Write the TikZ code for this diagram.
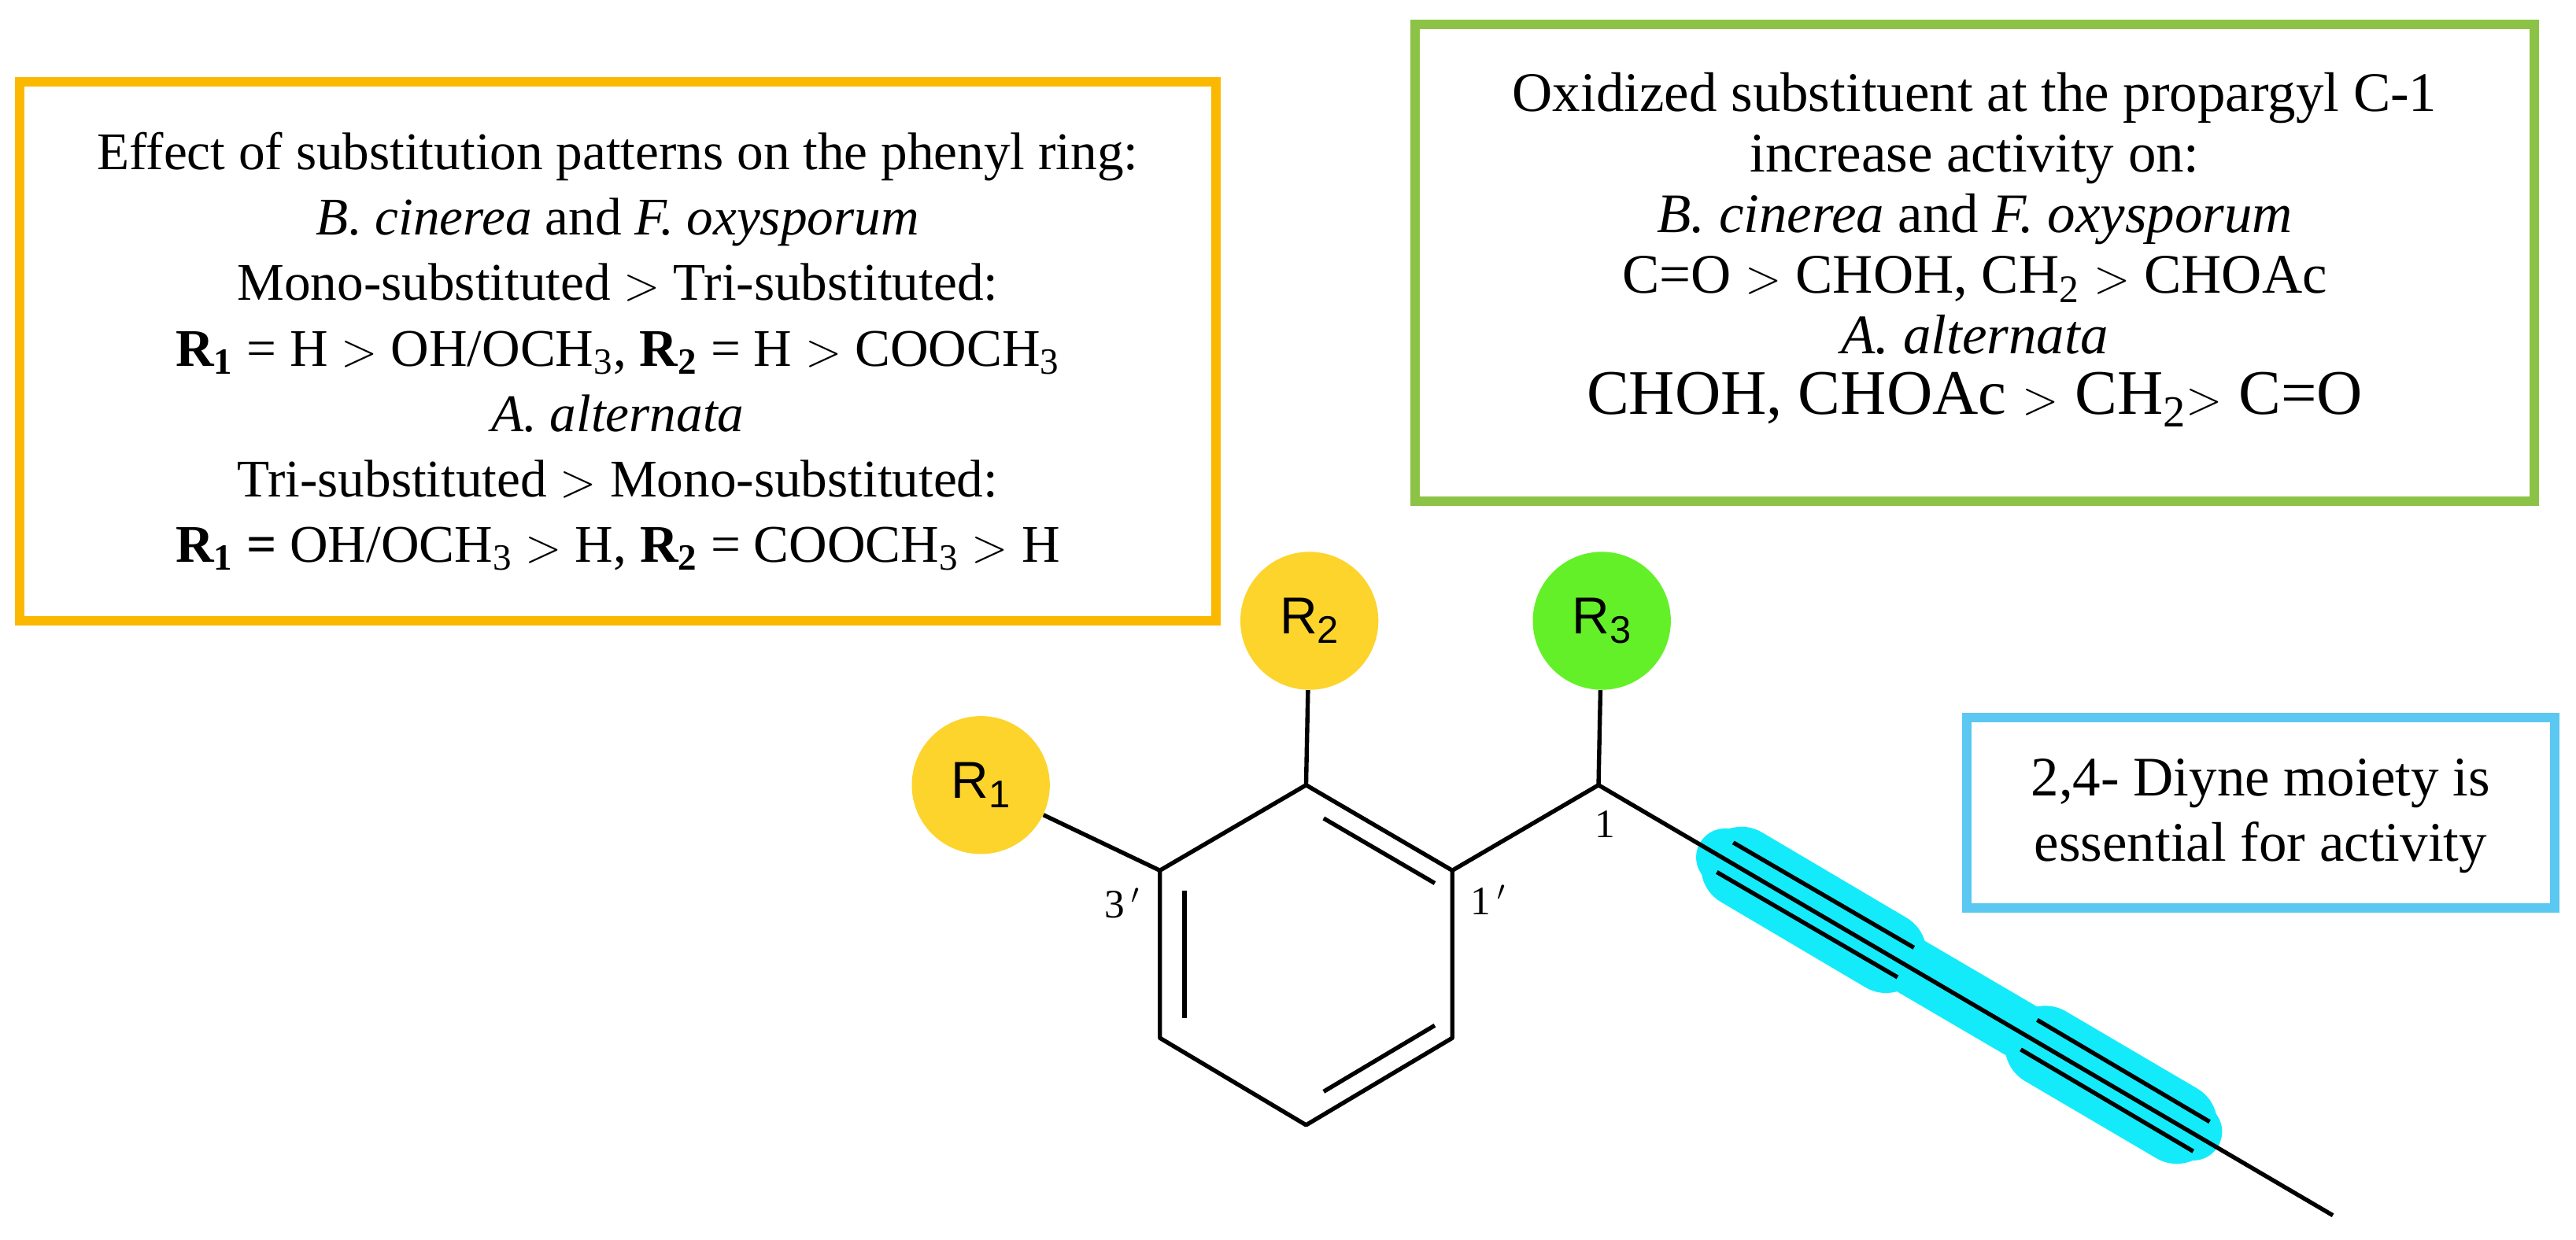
\documentclass[tikz,border=0pt]{standalone}
\usetikzlibrary{calc}
\usepackage{fontspec}
\setmainfont{Liberation Serif}
\newfontfamily\sff{Liberation Sans}
\begin{document}
\begin{tikzpicture}[x=0.03cm,y=-0.03cm,
  txt/.style={align=center,font=\fontsize{27.5}{34}\selectfont},
  bond/.style={line width=2.2pt},
  rc/.style={circle,minimum size=84*0.03cm,inner sep=0pt,font=\sff\fontsize{27}{30}\selectfont},
  lab/.style={font=\fontsize{21}{22}\selectfont}]
\useasboundingbox (0,0) rectangle (1568,755);
\newcommand{\sbs}[1]{\textsubscript{#1}}
\definecolor{hl}{RGB}{20,235,250}
% boxes
\node[draw={rgb,255:red,250;green,185;blue,0},line width=5pt,minimum width=728*0.03cm,minimum height=328*0.03cm] (ob) at (376,214) {};
\node[draw={rgb,255:red,140;green,195;blue,70},line width=5pt,minimum width=681*0.03cm,minimum height=290*0.03cm] (gb) at (1202,160) {};
\node[draw={rgb,255:red,90;green,200;blue,240},line width=5pt,minimum width=358*0.03cm,minimum height=116*0.03cm] (bb) at (1376,495) {};
\node[txt] (ot) at (376,214) {Effect of substitution patterns on the phenyl ring:\\
\textit{B. cinerea} and \textit{F. oxysporum}\\
Mono-substituted $>$ Tri-substituted:\\
\textbf{R\sbs{1}} = H $>$ OH/OCH\sbs{3}, \textbf{R\sbs{2}} = H $>$ COOCH\sbs{3}\\
\textit{A. alternata}\\
Tri-substituted $>$ Mono-substituted:\\
\textbf{R\sbs{1} =} OH/OCH\sbs{3} $>$ H, \textbf{R\sbs{2}} = COOCH\sbs{3} $>$ H};
\node[txt,font=\fontsize{29}{31.5}\selectfont] (gt) at (1202,152) {Oxidized substituent at the propargyl C-1\\
increase activity on:\\
\textit{B. cinerea} and \textit{F. oxysporum}\\
C=O $>$ CHOH, CH\sbs{2} $>$ CHOAc\\
\textit{A. alternata}\\
{\fontsize{33}{36}\selectfont CHOH, CHOAc $>$ CH\sbs{2}$>$ C=O}};
\node[txt,font=\fontsize{29}{34}\selectfont] (bt) at (1376,497) {2,4- Diyne moiety is\\essential for activity};
% highlight
\coordinate (h1) at (1050,522); \coordinate (h2) at (1335,689);
\draw[line width=30pt,line cap=round,hl] (h1) -- (h2);
\draw[line width=42pt,line cap=round,hl] (1060,528) -- (1148,580);
\draw[line width=42pt,line cap=round,hl] (1245,637) -- (1325,684);
% ring
\coordinate (a) at (795,478); \coordinate (b) at (884,530); \coordinate (c) at (884,632);
\coordinate (d) at (795,685); \coordinate (e) at (706,632); \coordinate (f) at (706,530);
\draw[bond,line join=round] (a)--(b)--(c)--(d)--(e)--(f)--cycle;
\draw[bond] ($(a)!0.12!(b)+(0,14)$) -- ($(a)!0.88!(b)+(0,14)$);
\draw[bond] ($(f)!0.12!(e)+(15,0)$) -- ($(f)!0.88!(e)+(15,0)$);
\draw[bond] ($(d)!0.12!(c)+(0,-14)$) -- ($(d)!0.88!(c)+(0,-14)$);
% substituents
\node[rc,fill={rgb,255:red,252;green,212;blue,44}] (r2) at (797,378) {R\raisebox{-0.35ex}{\fontsize{20}{20}\selectfont 2}};
\node[rc,fill={rgb,255:red,252;green,212;blue,44}] (r1) at (597,478) {R\raisebox{-0.35ex}{\fontsize{20}{20}\selectfont 1}};
\node[rc,fill={rgb,255:red,100;green,240;blue,40}] (r3) at (975,378) {R\raisebox{-0.35ex}{\fontsize{20}{20}\selectfont 3}};
\coordinate (c1) at (973,478);
\coordinate (end) at (1420,740);
\draw[bond] (a) -- (r2);
\draw[bond] (f) -- (r1);
\draw[bond] (b) -- (c1) -- (r3);
\draw[bond] (c1) -- (end);
\coordinate (t1) at (1050,522); \coordinate (t2) at (1160,586);
\coordinate (t3) at (1235,630); \coordinate (t4) at (1340,692);
\draw[bond] ($(t1)+(5,-9)$) -- ($(t2)+(5,-9)$);
\draw[bond] ($(t1)+(-5,9)$) -- ($(t2)+(-5,9)$);
\draw[bond] ($(t3)+(5,-9)$) -- ($(t4)+(5,-9)$);
\draw[bond] ($(t3)+(-5,9)$) -- ($(t4)+(-5,9)$);
\node[lab] (l1) at (977,502) {1};
\node[lab] (l1p) at (906,548) {1\,$'$};
\node[lab] (l3p) at (683,550) {3\,$'$};
\end{tikzpicture}
\end{document}
